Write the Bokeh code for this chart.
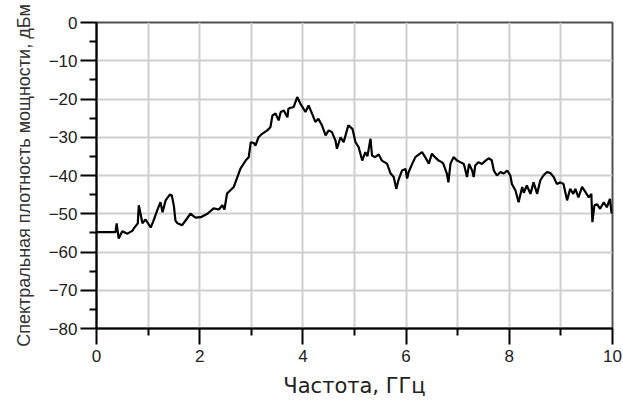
from bokeh.plotting import figure
from bokeh.models import Range1d, FixedTicker
from bokeh.embed import file_html
from bokeh.resources import INLINE

freq_ghz = [0.00, 0.37, 0.39, 0.43, 0.50, 0.60, 0.70, 0.72, 0.80, 0.82, 0.89, 0.95, 1.05, 1.10,
            1.18, 1.24, 1.28, 1.34, 1.42, 1.46, 1.50, 1.53, 1.57, 1.66, 1.74, 1.82, 1.92, 2.02,
            2.15, 2.27, 2.37, 2.44, 2.48, 2.53, 2.66, 2.73, 2.79, 2.89, 2.95, 2.99, 3.05, 3.08,
            3.14, 3.21, 3.31, 3.37, 3.41, 3.47, 3.53, 3.57, 3.63, 3.70, 3.72, 3.82, 3.89, 3.95,
            4.05, 4.11, 4.18, 4.24, 4.30, 4.37, 4.44, 4.50, 4.56, 4.63, 4.66, 4.73, 4.79, 4.88,
            4.96, 5.02, 5.08, 5.15, 5.21, 5.25, 5.31, 5.34, 5.40, 5.47, 5.53, 5.63, 5.70, 5.76,
            5.81, 5.85, 5.92, 5.99, 6.02, 6.05, 6.12, 6.18, 6.25, 6.31, 6.37, 6.44, 6.50, 6.56,
            6.63, 6.69, 6.72, 6.79, 6.82, 6.86, 6.92, 6.99, 7.05, 7.12, 7.18, 7.22, 7.28, 7.31,
            7.34, 7.40, 7.47, 7.54, 7.60, 7.66, 7.70, 7.76, 7.83, 7.89, 7.96, 8.02, 8.05, 8.12,
            8.18, 8.25, 8.28, 8.34, 8.41, 8.47, 8.54, 8.60, 8.66, 8.73, 8.79, 8.86, 8.92, 8.99,
            9.05, 9.12, 9.18, 9.24, 9.28, 9.34, 9.41, 9.47, 9.54, 9.59, 9.61, 9.65, 9.70, 9.76,
            9.83, 9.89, 9.95, 9.98, 10.00]

psd_dbm = [-54.8, -54.8, -52.5, -56.5, -54.6, -55.2, -54.4, -53.9, -52.5, -47.8, -52.5, -51.5, -53.6, -52.0,
           -49.0, -47.0, -49.6, -46.5, -45.0, -45.2, -48.0, -51.8, -52.5, -53.0, -51.5, -50.0, -51.0, -50.9,
           -50.0, -48.6, -48.9, -47.8, -48.9, -44.7, -43.0, -40.4, -38.2, -36.1, -35.2, -31.3, -31.5, -32.2,
           -30.0, -29.1, -28.2, -27.4, -24.3, -23.8, -25.6, -23.4, -23.0, -24.8, -22.5, -22.1, -19.5, -21.2,
           -23.4, -21.7, -23.9, -26.0, -25.2, -26.9, -29.5, -28.2, -28.6, -30.8, -33.0, -30.0, -31.3, -26.9,
           -27.8, -31.3, -32.6, -36.1, -33.9, -35.0, -30.4, -34.8, -35.2, -34.5, -36.1, -36.9, -39.5, -40.4,
           -43.5, -41.3, -38.7, -38.3, -40.8, -39.1, -36.9, -35.2, -34.5, -33.9, -35.2, -36.9, -34.3, -35.2,
           -36.1, -36.5, -36.9, -39.5, -41.8, -36.9, -35.2, -36.1, -36.5, -37.0, -40.4, -37.0, -38.7, -40.4,
           -37.4, -36.5, -37.0, -36.1, -35.5, -36.0, -38.7, -40.0, -39.1, -39.5, -38.7, -40.0, -42.2, -43.9,
           -47.0, -43.0, -44.5, -42.6, -44.8, -41.8, -44.8, -41.3, -40.0, -39.1, -39.3, -40.4, -42.2, -41.8,
           -42.2, -46.5, -43.5, -44.8, -43.5, -45.7, -43.0, -44.2, -45.7, -44.8, -52.2, -47.8, -47.5, -48.7,
           -47.0, -48.3, -46.1, -49.6, -50.0]

x_ticks = [0, 2, 4, 6, 8, 10]
x_minor = [1, 3, 5, 7, 9]
y_ticks = [0, -10, -20, -30, -40, -50, -60, -70, -80]
y_minor = [-5, -15, -25, -35, -45, -55, -65, -75]

p = figure(width=623, height=403, output_backend="svg", toolbar_location=None,
           x_range=Range1d(0, 10), y_range=Range1d(-80, 0),
           min_border_left=96, min_border_right=11, min_border_top=22, min_border_bottom=75)

p.background_fill_color = "white"
p.border_fill_color = "white"
p.outline_line_color = "#505050"
p.outline_line_width = 2

p.line(freq_ghz, psd_dbm, line_color="black", line_width=2.2)

p.xaxis.ticker = FixedTicker(ticks=x_ticks, minor_ticks=x_minor)
p.yaxis.ticker = FixedTicker(ticks=y_ticks, minor_ticks=y_minor)

for ax in (p.xaxis[0], p.yaxis[0]):
    ax.axis_line_color = "black"
    ax.axis_line_width = 2
    ax.major_tick_line_color = "black"
    ax.major_tick_line_width = 2
    ax.minor_tick_line_color = "black"
    ax.minor_tick_line_width = 2
    ax.major_tick_in = 0
    ax.minor_tick_in = 0
    ax.major_tick_out = 16
    ax.minor_tick_out = 7
    ax.major_label_text_font = "Liberation Sans"
    ax.major_label_text_font_size = "17px"
    ax.major_label_text_color = "#222222"

p.yaxis.major_label_standoff = 3
p.xaxis.major_label_standoff = 5

p.xaxis.axis_label = "Частота, ГГц"
p.xaxis.axis_label_text_font = "DejaVu Sans"
p.xaxis.axis_label_text_font_size = "21px"
p.xaxis.axis_label_text_font_style = "normal"
p.xaxis.axis_label_text_color = "#222222"
p.xaxis.axis_label_standoff = 9

p.yaxis.axis_label = "Спектральная плотность мощности, дБм"
p.yaxis.axis_label_text_font = "Liberation Sans"
p.yaxis.axis_label_text_font_size = "18px"
p.yaxis.axis_label_text_font_style = "normal"
p.yaxis.axis_label_text_color = "#333333"
p.yaxis.axis_label_standoff = 12

p.xgrid.grid_line_color = "#cfcfcf"
p.xgrid.grid_line_width = 2
p.xgrid.minor_grid_line_color = "#cfcfcf"
p.xgrid.minor_grid_line_width = 2
p.ygrid.grid_line_color = "#cfcfcf"
p.ygrid.grid_line_width = 2

open("out.html", "w").write(file_html(p, INLINE))
